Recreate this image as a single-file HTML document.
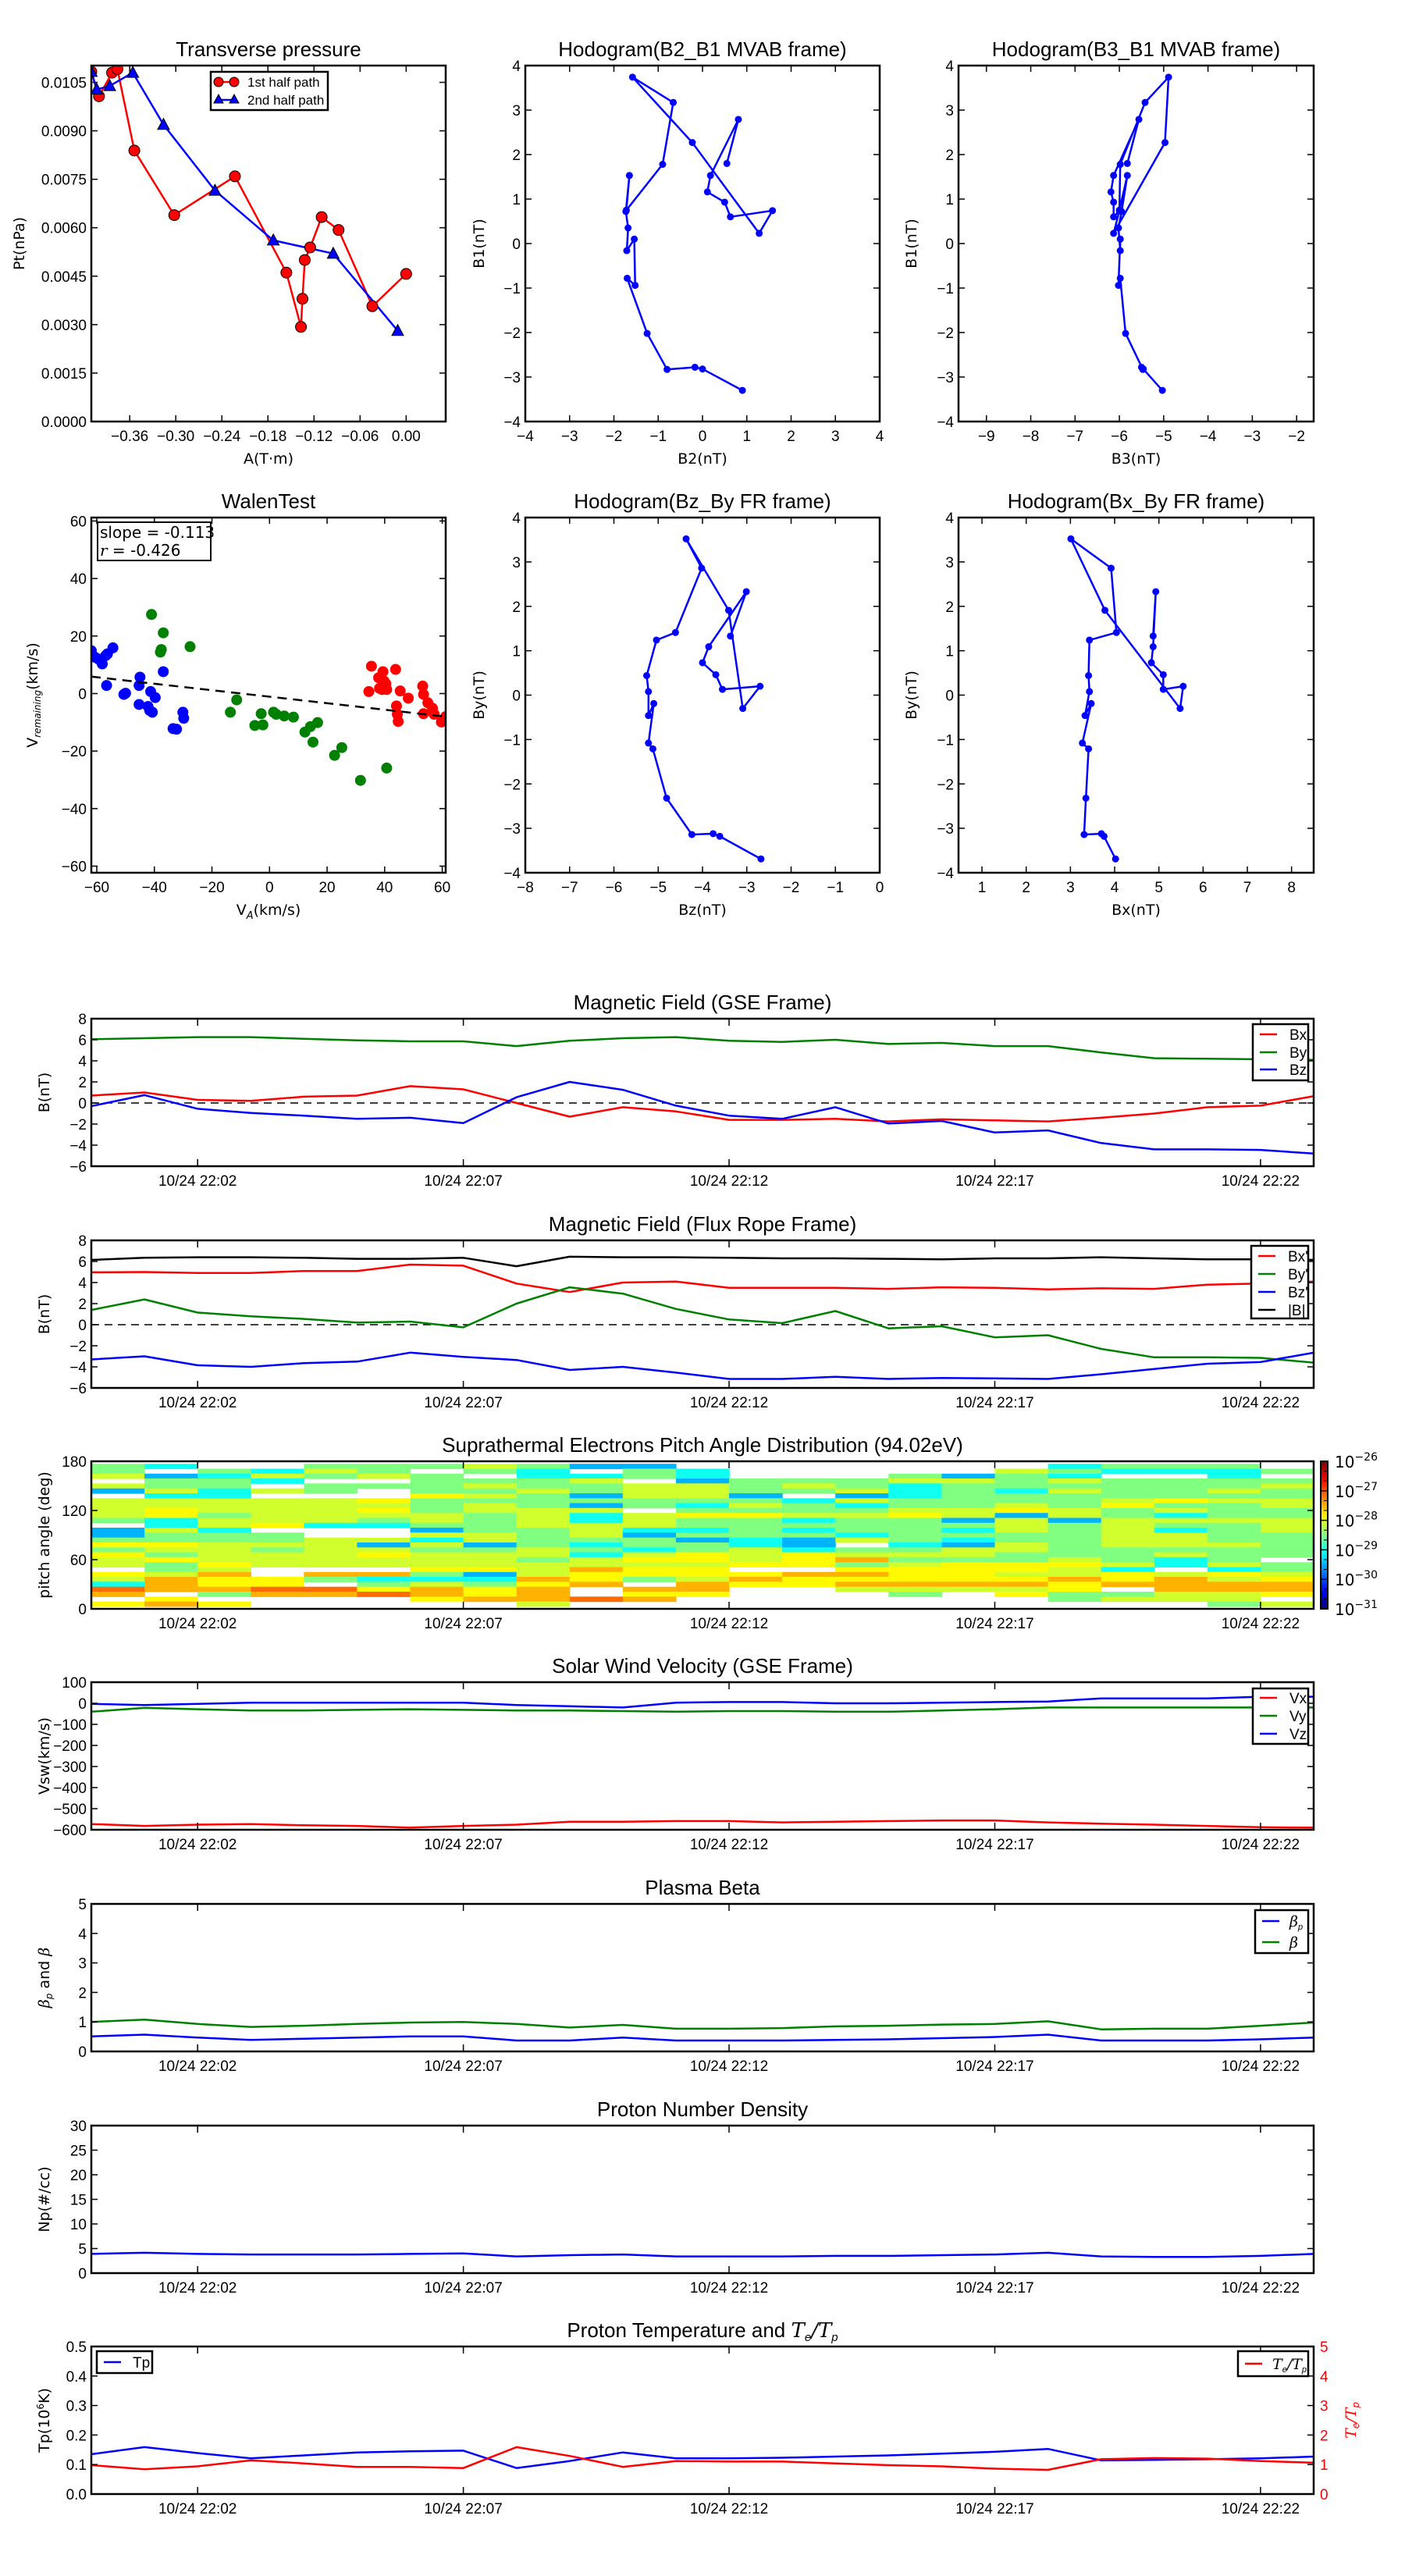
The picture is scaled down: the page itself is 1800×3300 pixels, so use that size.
<!DOCTYPE html>
<html><head><meta charset="utf-8"><title>Flux rope analysis</title>
<style>
html,body{margin:0;padding:0;background:#fff;}
svg{display:block;font-family:"Liberation Sans","DejaVu Sans",sans-serif;}
</style></head>
<body>
<svg id="fig" width="1800" height="3300" viewBox="0 0 1800 3300" xmlns="http://www.w3.org/2000/svg"></svg>
<script>
// ---------- DATA ----------
const timeMin=[0,1,2,3,4,5,6,7,8,9,10,11,12,13,14,15,16,17,18,19,20,21,22,23];
const timeTickMin=[2,7,12,17,22];
const timeTickLabels=["10/24 22:02","10/24 22:07","10/24 22:12","10/24 22:17","10/24 22:22"];
// GSE B
const bxGse=[0.7,1.0,0.3,0.2,0.6,0.7,1.6,1.3,0,-1.3,-0.4,-0.8,-1.6,-1.6,-1.5,-1.75,-1.55,-1.65,-1.75,-1.4,-1.0,-0.4,-0.25,0.65];
const byGse=[6.05,6.15,6.25,6.25,6.1,5.95,5.85,5.85,5.4,5.9,6.15,6.25,5.9,5.8,6.0,5.6,5.7,5.4,5.4,4.8,4.25,4.2,4.15,4.1];
const bzGse=[-0.3,0.75,-0.55,-0.95,-1.2,-1.5,-1.4,-1.9,0.55,2.0,1.25,-0.25,-1.2,-1.5,-0.4,-1.95,-1.7,-2.8,-2.6,-3.8,-4.4,-4.4,-4.45,-4.8];
// Flux-rope frame
const bxFr=[4.97,5.0,4.9,4.9,5.1,5.1,5.7,5.6,3.9,3.1,4.0,4.1,3.5,3.5,3.5,3.4,3.55,3.5,3.35,3.45,3.4,3.8,3.9,4.1];
const byFr=[1.4,2.4,1.15,0.8,0.55,0.2,0.3,-0.25,2.0,3.55,2.95,1.5,0.5,0.15,1.3,-0.35,-0.15,-1.2,-1.0,-2.3,-3.1,-3.1,-3.15,-3.6];
const bzFr=[-3.3,-3.0,-3.85,-4.0,-3.65,-3.5,-2.65,-3.05,-3.35,-4.3,-4.0,-4.55,-5.15,-5.15,-4.95,-5.15,-5.05,-5.1,-5.15,-4.7,-4.2,-3.7,-3.55,-2.65];
const bTot=[6.15,6.35,6.4,6.4,6.35,6.25,6.25,6.35,5.55,6.45,6.4,6.4,6.35,6.3,6.3,6.25,6.2,6.3,6.3,6.4,6.3,6.2,6.2,6.15];
// Solar wind
const vx=[-573,-582,-576,-573,-579,-582,-590,-582,-576,-562,-562,-559,-559,-565,-562,-559,-556,-556,-565,-571,-576,-582,-588,-590];
const vy=[-40,-22,-28,-34,-34,-31,-28,-31,-34,-34,-37,-40,-37,-37,-40,-40,-34,-28,-20,-20,-20,-20,-20,-20];
const vz=[-3,-8,-3,3,3,3,3,3,-8,-14,-20,3,6,6,0,0,3,6,8,23,23,23,31,31];
// Plasma beta
const betaP=[0.51,0.57,0.47,0.39,0.43,0.47,0.51,0.51,0.37,0.37,0.47,0.37,0.37,0.37,0.39,0.41,0.45,0.49,0.57,0.37,0.37,0.37,0.41,0.47];
const betaT=[1.0,1.08,0.93,0.83,0.87,0.93,0.98,1.0,0.93,0.81,0.9,0.77,0.77,0.79,0.85,0.87,0.91,0.93,1.02,0.75,0.77,0.77,0.87,0.98];
// Density
const np=[3.9,4.15,3.9,3.8,3.8,3.8,3.9,4.0,3.4,3.65,3.8,3.4,3.4,3.4,3.5,3.5,3.65,3.8,4.15,3.4,3.3,3.3,3.5,3.9];
// Temperature
const tp=[0.135,0.159,0.139,0.121,0.131,0.141,0.145,0.147,0.088,0.112,0.141,0.121,0.121,0.123,0.127,0.131,0.137,0.143,0.153,0.114,0.116,0.118,0.121,0.127];
const teTp=[0.98,0.84,0.94,1.14,1.04,0.92,0.92,0.88,1.59,1.29,0.92,1.12,1.1,1.1,1.04,0.98,0.94,0.86,0.82,1.18,1.22,1.2,1.12,1.06];
// PAD: rows top (177 deg) to bottom (3 deg), 23 one-minute columns; code -> log10 level, '.' = no data
const padRows=[
"54..5556533.......4555.",
"5.5465.54.54.....654445",
"6346565.4454...5354..4.",
".554..5556.355566565555",
"655.5556556656545555556",
"36465.55656655645465565",
".44...7653663.345555555",
"66666755555554655556766",
"66666656535465455657556",
"6766675666.555566765655",
"67566665646776676365455",
"54666565646554553636666",
".4674455666555555656556",
"364...35564454554656456",
"3555..66563555455556655",
"55556646555343654556655",
"77666363545543.43656665",
"56656655654564556655555",
"75666766646767666555655",
"6766666656776785556545.",
"65766666666677567776465",
".56...776877..777764.45",
"768.8853677778877667676",
"68775444875687777787867",
"4877.56578.877888878888",
"988997878.88..66667.888",
"8.5889878.77...5.755667",
".7....78898.......5666.",
"787.....6............56"];
const padLevelLog={"3":-29.5,"4":-29.05,"5":-28.5,"6":-28.1,"7":-27.85,"8":-27.5,"9":-27.15};
const padAngleEdgesTop=177, padBinDeg=6;
const cbarExp=[-26,-27,-28,-29,-30,-31];
// Transverse pressure
const ptA1=[-0.410,-0.400,-0.383,-0.376,-0.354,-0.302,-0.223,-0.156,-0.137,-0.135,-0.132,-0.125,-0.110,-0.088,-0.044,0.000];
const ptP1=[0.01083,0.01007,0.01080,0.01091,0.00839,0.00639,0.00759,0.00461,0.00293,0.00380,0.00500,0.00539,0.00633,0.00593,0.00357,0.00457];
const ptA2=[-0.410,-0.403,-0.386,-0.356,-0.316,-0.249,-0.173,-0.095,-0.011];
const ptP2=[0.01083,0.01028,0.01039,0.01080,0.00919,0.00715,0.00561,0.00520,0.00281];
// MVAB hodograms
const mvB1=[-3.3,-2.82,-2.78,-2.83,-2.02,-0.78,-0.94,0.1,-0.16,0.35,0.72,1.53,0.75,1.78,3.17,3.74,2.27,0.23,0.74,0.6,0.93,1.16,1.53,2.79,1.8];
const mvB2=[0.9,0,-0.17,-0.8,-1.25,-1.7,-1.52,-1.54,-1.71,-1.68,-1.73,-1.65,-1.72,-0.9,-0.66,-1.58,-0.23,1.28,1.58,0.63,0.5,0.11,0.18,0.81,0.55];
const mvB3=[-5.03,-5.46,-5.5,-5.47,-5.86,-5.98,-6.02,-5.98,-5.98,-6.02,-5.95,-5.82,-6.0,-5.98,-5.42,-4.89,-4.97,-6.13,-6.0,-6.13,-6.13,-6.19,-6.13,-5.56,-5.82];
// FR hodograms
const frBy=[-3.69,-3.18,-3.12,-3.14,-2.32,-1.21,-1.08,-0.19,-0.46,0.08,0.44,1.24,1.41,2.86,3.52,1.91,-0.30,0.20,0.13,0.46,0.73,1.09,2.33,1.33];
const frBz=[-2.68,-3.61,-3.76,-4.24,-4.81,-5.12,-5.22,-5.10,-5.22,-5.22,-5.26,-5.04,-4.61,-4.02,-4.37,-3.41,-3.09,-2.70,-3.55,-3.70,-4.00,-3.86,-3.01,-3.37];
const frBx=[4.02,3.76,3.70,3.31,3.35,3.41,3.27,3.47,3.33,3.43,3.41,3.43,4.04,3.92,3.01,3.78,5.48,5.55,5.1,5.1,4.83,4.87,4.93,4.87];
// Walen test
const walBlueX=[-61.9,-60.6,-59.4,-58.1,-56.9,-56.3,-54.4,-56.6,-50.6,-50.0,-45.3,-45.3,-45.0,-42.2,-41.6,-41.3,-40.7,-39.7,-36.9,-33.5,-32.3,-30.1,-29.8];
const walBlueY=[14.9,12.6,12.0,10.3,13.2,13.8,15.9,2.8,-0.3,0.1,-3.8,2.8,5.7,-4.5,-5.9,0.7,-6.5,-1.4,7.6,-12.2,-12.4,-6.5,-8.6];
const walGreenX=[-41.0,-36.9,-37.6,-37.9,-27.6,-11.4,-13.6,-2.9,-2.3,-5.1,1.4,2.3,5.1,8.3,12.3,14.2,15.1,16.7,25.1,22.6,31.6,40.7];
const walGreenY=[27.5,21.1,15.3,14.4,16.3,-2.2,-6.5,-7.0,-10.9,-11.1,-6.5,-7.2,-7.8,-8.2,-13.4,-11.5,-16.9,-10.1,-18.8,-21.5,-30.2,-25.9];
const walRedX=[35.4,34.5,37.9,39.4,39.8,40.4,38.2,39.1,40.7,43.8,44.1,44.4,44.7,45.4,48.2,53.2,53.5,53.5,55.0,56.6,57.2,59.7,61.2];
const walRedY=[9.5,0.7,5.5,7.6,4.3,3.4,1.8,1.4,1.4,8.4,-4.3,-7.2,-9.7,0.9,-1.6,2.6,-0.3,-7.0,-3.2,-5.1,-7.2,-9.9,-8.0];
const walSlope=-0.113, walIntercept=-1.1, walR=-0.426;

// ---------- HELPERS ----------
const NS='http://www.w3.org/2000/svg';
const svg=document.getElementById('fig');
function mk(tag,attrs,parent){const e=document.createElementNS(NS,tag);for(const k in attrs)e.setAttribute(k,attrs[k]);(parent||svg).appendChild(e);return e;}
function lin(d0,d1,p0,p1){return v=>p0+(v-d0)/(d1-d0)*(p1-p0);}
function fmtMinus(s){return String(s).replace(/-/g,'\u2212');}
function txt(parent,x,y,s,size,anchor,extra){const t=mk('text',Object.assign({x:x,y:y,'font-size':size,'text-anchor':anchor||'middle',fill:'#000'},extra||{}),parent);t.textContent=s;return t;}
function jet(f){f=Math.max(0,Math.min(1,f));const c=v=>Math.round(255*Math.max(0,Math.min(1,v)));return 'rgb('+c(1.5-Math.abs(4*f-3))+','+c(1.5-Math.abs(4*f-2))+','+c(1.5-Math.abs(4*f-1))+')';}

function frame(g,x0,y0,w,h){
  const r=mk('rect',{x:x0,y:y0,width:w,height:h,fill:'none',stroke:'#000','stroke-width':2.5},g);
  
  
}
function xTicks(g,vals,labels,sx,y0,h,len,both){
  vals.forEach((v,i)=>{const x=sx(v);
    const t1=mk('line',{x1:x,y1:y0+h,x2:x,y2:y0+h-len,stroke:'#000','stroke-width':1.5},g);
    
    
    if(both!==false){const t2=mk('line',{x1:x,y1:y0,x2:x,y2:y0+len,stroke:'#000','stroke-width':1.5},g);
      
      }
    const l=txt(g,x,y0+h+25,fmtMinus(labels[i]),19);
    
    
  });
}
function yTicks(g,vals,labels,sy,x0,w,len,opt){
  opt=opt||{};
  vals.forEach((v,i)=>{const y=sy(v);
    if(opt.left!==false){const t1=mk('line',{x1:x0,y1:y,x2:x0+len,y2:y,stroke:'#000','stroke-width':1.5},g);
      
      }
    if(opt.right!==false){const t2=mk('line',{x1:x0+w,y1:y,x2:x0+w-len,y2:y,stroke:'#000','stroke-width':1.5},g);
      
      }
    if(labels){const l=opt.rightLabels?txt(g,x0+w+8,y+7,fmtMinus(labels[i]),19,'start',{fill:opt.color||'#000'}):txt(g,x0-6,y+7,fmtMinus(labels[i]),19,'end');
      
      }
  });
}
function polyline(g,xs,ys,sx,sy,color,w){
  const pts=xs.map((x,i)=>sx(x).toFixed(1)+','+sy(ys[i]).toFixed(1)).join(' ');
  return mk('polyline',{points:pts,fill:'none',stroke:color,'stroke-width':w||2.5,'stroke-linejoin':'round'},g);
}
function ylabel(g,x,y,s,size,color){
  const t=txt(g,x,y,s,size||19,'middle',{transform:'rotate(-90 '+x+' '+y+')',fill:color||'#000','font-family':'DejaVu Sans, sans-serif'});
  
  
  return t;
}
function title(g,x,y,s){
  const t=txt(g,x,y,s,26,'middle');
  
  
  return t;
}
function legendBox(g,x,y,w,h,entries,lineLen){
  const lg=mk('g',{},g);
  
  
  mk('rect',{x:x,y:y,width:w,height:h,fill:'#fff',stroke:'#000','stroke-width':2.5},lg);
  entries.forEach(e=>{
    const eg=mk('g',{},lg);
    
    
    mk('line',{x1:x+9,y1:e.y,x2:x+9+(lineLen||22),y2:e.y,stroke:e.color,'stroke-width':2.5},eg);
    const t=txt(eg,e.tx,e.y+7,e.label,19,'start',e.style||{});
    if(e.html){t.textContent='';e.html(t);}
  });
  return lg;
}

// ---------- SCATTER/HODOGRAM PANELS ----------
function hodo(name,x0,y0,w,h,xd,yd,xt,yt,xs,ys,ttl,xl,yl,ylx){
  const g=mk('g',{});
  
  
  const sx=lin(xd[0],xd[1],x0,x0+w), sy=lin(yd[0],yd[1],y0+h,y0);
  const pl=polyline(g,xs,ys,sx,sy,'#0000ff',2.5);
  
  
  xs.forEach((x,i)=>{const c=mk('circle',{cx:sx(x),cy:sy(ys[i]),r:4.5,fill:'#0000ff'},g);
    
    });
  xTicks(g,xt,xt,sx,y0,h,8);
  yTicks(g,yt,yt,sy,x0,w,8);
  frame(g,x0,y0,w,h);
  title(g,x0+w/2,y0-12,ttl);
  const xlab=txt(g,x0+w/2,y0+h+54,xl,19,'middle',{'font-family':'DejaVu Sans, sans-serif'});
  
  
  ylabel(g,ylx,y0+h/2,yl);
  return g;
}
const R1Y=84,R1H=456,R2Y=663,R2H=455;
const C1=[117,454],C2=[673,454],C3=[1228,455];

// Transverse pressure
(function(){
  const x0=C1[0],w=C1[1],y0=R1Y,h=R1H;
  const g=mk('g',{});
  
  
  const sx=lin(-0.41,0.0515,x0,x0+w), sy=lin(0,0.01102,y0+h,y0);
  const cp=mk('clipPath',{id:'clipPt'},g);mk('rect',{x:x0,y:y0,width:w,height:h},cp);
  const inner=mk('g',{'clip-path':'url(#clipPt)'},g);
  const l1=polyline(inner,ptA1,ptP1,sx,sy,'#ff0000',2.5);
  
  
  const l2=polyline(inner,ptA2,ptP2,sx,sy,'#0000ff',2.5);
  
  
  ptA1.forEach((a,i)=>{const c=mk('circle',{cx:sx(a),cy:sy(ptP1[i]),r:7,fill:'#ff0000',stroke:'#000','stroke-width':1},inner);
    
    });
  ptA2.forEach((a,i)=>{const x=sx(a),y=sy(ptP2[i]);const p=mk('polygon',{points:(x)+','+(y-8)+' '+(x-7.5)+','+(y+6)+' '+(x+7.5)+','+(y+6),fill:'#0000ff',stroke:'#000','stroke-width':1},inner);
    
    });
  const xt=[-0.36,-0.30,-0.24,-0.18,-0.12,-0.06,0.00];
  xTicks(g,xt,xt.map(v=>v.toFixed(2)),sx,y0,h,8);
  const yt=[0,0.0015,0.003,0.0045,0.006,0.0075,0.009,0.0105];
  yTicks(g,yt,yt.map(v=>v.toFixed(4)),sy,x0,w,8);
  frame(g,x0,y0,w,h);
  title(g,x0+w/2,y0-12,'Transverse pressure');
  const xl=txt(g,x0+w/2,y0+h+54,'A(T\u00b7m)',19,'middle',{'font-family':'DejaVu Sans, sans-serif'});
  
  
  ylabel(g,31,y0+h/2,'Pt(nPa)');
  const lg=mk('g',{},g);
  
  
  mk('rect',{x:270,y:92,width:150,height:49,fill:'#fff',stroke:'#000','stroke-width':2.5},lg);
  const e1=mk('g',{},lg);
  
  
  mk('line',{x1:280,y1:105,x2:300,y2:105,stroke:'#ff0000','stroke-width':2.5},e1);
  mk('circle',{cx:280,cy:105,r:6,fill:'#ff0000',stroke:'#000','stroke-width':1},e1);
  mk('circle',{cx:300,cy:105,r:6,fill:'#ff0000',stroke:'#000','stroke-width':1},e1);
  txt(e1,317,111,'1st half path',17,'start');
  const e2=mk('g',{},lg);
  
  
  mk('line',{x1:280,y1:128,x2:300,y2:128,stroke:'#0000ff','stroke-width':2.5},e2);
  mk('polygon',{points:'280,121 274,132 286,132',fill:'#0000ff',stroke:'#000','stroke-width':1},e2);
  mk('polygon',{points:'300,121 294,132 306,132',fill:'#0000ff',stroke:'#000','stroke-width':1},e2);
  txt(e2,317,134,'2nd half path',17,'start');
})();

hodo('hodogram-b2-b1-chart',C2[0],R1Y,C2[1],R1H,[-4,4],[-4,4],[-4,-3,-2,-1,0,1,2,3,4],[-4,-3,-2,-1,0,1,2,3,4],mvB2,mvB1,'Hodogram(B2_B1 MVAB frame)','B2(nT)','B1(nT)',620);
hodo('hodogram-b3-b1-chart',C3[0],R1Y,C3[1],R1H,[-9.63,-1.615],[-4,4],[-9,-8,-7,-6,-5,-4,-3,-2],[-4,-3,-2,-1,0,1,2,3,4],mvB3,mvB1,'Hodogram(B3_B1 MVAB frame)','B3(nT)','B1(nT)',1174);
hodo('hodogram-bz-by-chart',C2[0],R2Y,C2[1],R2H,[-8,0],[-4,4],[-8,-7,-6,-5,-4,-3,-2,-1,0],[-4,-3,-2,-1,0,1,2,3,4],frBz,frBy,'Hodogram(Bz_By FR frame)','Bz(nT)','By(nT)',620);
hodo('hodogram-bx-by-chart',C3[0],R2Y,C3[1],R2H,[0.47,8.5],[-4,4],[1,2,3,4,5,6,7,8],[-4,-3,-2,-1,0,1,2,3,4],frBx,frBy,'Hodogram(Bx_By FR frame)','Bx(nT)','By(nT)',1174);

// Walen test
(function(){
  const x0=C1[0],w=C1[1],y0=R2Y,h=R2H;
  const g=mk('g',{});
  
  
  const xd=[-61.9,61.2];
  const sx=lin(xd[0],xd[1],x0,x0+w), sy=lin(-62.3,61.2,y0+h,y0);
  const cp=mk('clipPath',{id:'clipW'},g);mk('rect',{x:x0,y:y0,width:w,height:h},cp);
  const inner=mk('g',{'clip-path':'url(#clipW)'},g);
  function pts(xs,ys,color,name){xs.forEach((x,i)=>{const c=mk('circle',{cx:sx(x),cy:sy(ys[i]),r:7,fill:color},inner);
    
    });}
  pts(walBlueX,walBlueY,'#0000ff','walen-point-blue');
  pts(walGreenX,walGreenY,'#008000','walen-point-green');
  pts(walRedX,walRedY,'#ff0000','walen-point-red');
  const fl=mk('line',{x1:sx(xd[0]),y1:sy(walSlope*xd[0]+walIntercept),x2:sx(xd[1]),y2:sy(walSlope*xd[1]+walIntercept),stroke:'#000','stroke-width':2.5,'stroke-dasharray':'12,8'},inner);
  
  
  const t=[-60,-40,-20,0,20,40,60];
  xTicks(g,t,t,sx,y0,h,8);
  yTicks(g,t,t,sy,x0,w,8);
  frame(g,x0,y0,w,h);
  title(g,x0+w/2,y0-12,'WalenTest');
  const xl=txt(g,x0+w/2,y0+h+54,'',19,'middle',{'font-family':'DejaVu Sans, sans-serif'});
  
  
  xl.innerHTML='V<tspan font-size="13" dy="5" font-style="italic">A</tspan><tspan dy="-5">(km/s)</tspan>';
  const yl=ylabel(g,48,y0+h/2,'');
  yl.innerHTML='V<tspan font-size="12" dy="4" font-style="italic">remaining</tspan><tspan dy="-4">(km/s)</tspan>';
  const box=mk('g',{},g);
  
  
  mk('rect',{x:125,y:669,width:145,height:49,fill:'#fff',stroke:'#000','stroke-width':2},box);
  txt(box,128,689,'slope = '+walSlope.toFixed(3),20,'start',{'font-family':'DejaVu Sans, sans-serif'});
  const rt=txt(box,128,712,'',20,'start',{'font-family':'DejaVu Sans, sans-serif'});
  rt.innerHTML='<tspan font-style="italic" font-family="DejaVu Serif, serif">r</tspan> = '+walR.toFixed(3);
})();

// ---------- TIME SERIES PANELS ----------
const TS_X0=117,TS_W=1566,TS_H=189;
const TS_TOPS=[1305,1589,1872,2155,2439,2723,3006];
const sxT=lin(0,23,TS_X0,TS_X0+TS_W);
function tsPanel(name,top,yd,yt,ttl,yl,series,legend,opts){
  opts=opts||{};
  const g=mk('g',{});
  
  
  const sy=lin(yd[0],yd[1],top+TS_H,top);
  const cid='clip'+name;
  const cp=mk('clipPath',{id:cid},g);mk('rect',{x:TS_X0,y:top,width:TS_W,height:TS_H},cp);
  const inner=mk('g',{'clip-path':'url(#'+cid+')'},g);
  if(opts.zero){const z=mk('line',{x1:TS_X0,y1:sy(0),x2:TS_X0+TS_W,y2:sy(0),stroke:'#000','stroke-width':1.5,'stroke-dasharray':'10,7'},inner);
    
    }
  series.forEach(s=>{const ssy=s.sy||sy;const p=polyline(inner,timeMin,s.data,sxT,ssy,s.color,2.5);
    
    });
  xTicks(g,timeTickMin,timeTickLabels,sxT,top,TS_H,9);
  yTicks(g,yt,yt.map(v=>opts.fmt?opts.fmt(v):v),sy,TS_X0,TS_W,8,{right:opts.rightAxis?false:true});
  frame(g,TS_X0,top,TS_W,TS_H);
  title(g,TS_X0+TS_W/2,top-12,ttl);
  if(yl)ylabel(g,63,top+TS_H/2,yl);
  return {g:g,sy:sy};
}

// GSE
{
  const p=tsPanel('magnetic-field-gse-chart',TS_TOPS[0],[-6,8],[-6,-4,-2,0,2,4,6,8],'Magnetic Field (GSE Frame)','B(nT)',
   [{data:bxGse,color:'#ff0000',name:'bx-line'},{data:byGse,color:'#008000',name:'by-line'},{data:bzGse,color:'#0000ff',name:'bz-line'}],null,{zero:true});
  legendBox(p.g,1605,1312,71,72,[{y:1325,color:'#ff0000',label:'Bx',tx:1652},{y:1348,color:'#008000',label:'By',tx:1652},{y:1370,color:'#0000ff',label:'Bz',tx:1652}]);
}
// Flux rope
{
  const p=tsPanel('magnetic-field-flux-rope-chart',TS_TOPS[1],[-6,8],[-6,-4,-2,0,2,4,6,8],'Magnetic Field (Flux Rope Frame)','B(nT)',
   [{data:bxFr,color:'#ff0000',name:'bx-prime-line'},{data:byFr,color:'#008000',name:'by-prime-line'},{data:bzFr,color:'#0000ff',name:'bz-prime-line'},{data:bTot,color:'#000000',name:'b-total-line'}],null,{zero:true});
  const t=TS_TOPS[1];
  legendBox(p.g,1603,t+7,73,93,[{y:t+20,color:'#ff0000',label:"Bx'",tx:1650},{y:t+43,color:'#008000',label:"By'",tx:1650},{y:t+66,color:'#0000ff',label:"Bz'",tx:1650},{y:t+89,color:'#000000',label:'|B|',tx:1650}]);
}
// PAD heatmap
{
  const top=TS_TOPS[2];
  const g=mk('g',{});
  
  
  const sy=lin(0,180,top+TS_H,top);
  const cg=mk('g',{},g);
  
  
  padRows.forEach((row,r)=>{
    const aTop=padAngleEdgesTop-r*padBinDeg, aBot=aTop-padBinDeg;
    [...row].forEach((ch,c)=>{
      if(ch==='.')return;
      const v=padLevelLog[ch];
      const x1=sxT(timeMin[c]),x2=sxT(timeMin[c+1]);
      const y1=sy(aTop),y2=sy(aBot);
      const cell=mk('rect',{x:x1.toFixed(1),y:y1.toFixed(1),width:(x2-x1+0.6).toFixed(1),height:(y2-y1+0.6).toFixed(1),fill:jet((v+31)/5)},cg);
      
      
    });
  });
  xTicks(g,timeTickMin,timeTickLabels,sxT,top,TS_H,9);
  yTicks(g,[0,60,120,180],[0,60,120,180],sy,TS_X0,TS_W,8);
  frame(g,TS_X0,top,TS_W,TS_H);
  title(g,TS_X0+TS_W/2,top-12,'Suprathermal Electrons Pitch Angle Distribution (94.02eV)');
  ylabel(g,63,top+TS_H/2,'pitch angle (deg)');
  // colorbar
  const cb=mk('g',{},g);
  
  
  const defs=mk('defs',{},cb);
  const grad=mk('linearGradient',{id:'jetGrad',x1:0,y1:1,x2:0,y2:0},defs);
  for(let i=0;i<=20;i++){mk('stop',{offset:(i/20),'stop-color':jet(i/20)},grad);}
  mk('rect',{x:1692,y:top,width:9,height:TS_H,fill:'url(#jetGrad)',stroke:'#000','stroke-width':2},cb);
  const scb=lin(-31,-26,top+TS_H,top);
  cbarExp.forEach(e=>{
    const y=scb(e);
    mk('line',{x1:1692,y1:y,x2:1701,y2:y,stroke:'#000','stroke-width':1.5},cb);
    const t=txt(cb,1710,y+8,'',20,'start',{'font-family':'DejaVu Sans, sans-serif'});
    t.innerHTML='10<tspan font-size="14" dy="-9">'+fmtMinus(e)+'</tspan>';
    
    
  });
  for(let e=-31;e<-26;e++){for(let k=1;k<3;k++){const y=scb(e+k/3);mk('line',{x1:1696,y1:y,x2:1701,y2:y,stroke:'#000','stroke-width':1},cb);}}
}
// Solar wind
{
  const p=tsPanel('solar-wind-velocity-chart',TS_TOPS[3],[-600,100],[-600,-500,-400,-300,-200,-100,0,100],'Solar Wind Velocity (GSE Frame)','Vsw(km/s)',
   [{data:vx,color:'#ff0000',name:'vx-line'},{data:vy,color:'#008000',name:'vy-line'},{data:vz,color:'#0000ff',name:'vz-line'}]);
  const t=TS_TOPS[3];
  legendBox(p.g,1605,t+8,71,71,[{y:t+20,color:'#ff0000',label:'Vx',tx:1652},{y:t+43,color:'#008000',label:'Vy',tx:1652},{y:t+66,color:'#0000ff',label:'Vz',tx:1652}]);
}
// Plasma beta
{
  const p=tsPanel('plasma-beta-chart',TS_TOPS[4],[0,5],[0,1,2,3,4,5],'Plasma Beta',null,
   [{data:betaP,color:'#0000ff',name:'beta-p-line'},{data:betaT,color:'#008000',name:'beta-line'}]);
  const t=TS_TOPS[4];
  const yl=ylabel(p.g,63,t+TS_H/2,'');
  yl.innerHTML='<tspan font-style="italic" font-family="DejaVu Serif, serif">β</tspan><tspan font-size="12" dy="4" font-style="italic">p</tspan><tspan dy="-4"> and </tspan><tspan font-style="italic" font-family="DejaVu Serif, serif">β</tspan>';
  legendBox(p.g,1608,t+8,68,55,[{y:t+22,color:'#0000ff',label:'',tx:1652,html:e=>{e.innerHTML='<tspan font-style="italic" font-family="DejaVu Serif, serif">β</tspan><tspan font-size="11" dy="4" font-style="italic">p</tspan>';}},{y:t+49,color:'#008000',label:'',tx:1652,html:e=>{e.innerHTML='<tspan font-style="italic" font-family="DejaVu Serif, serif">β</tspan>';}}]);
}
// Density
{
  tsPanel('proton-density-chart',TS_TOPS[5],[0,30],[0,5,10,15,20,25,30],'Proton Number Density','Np(#/cc)',
   [{data:np,color:'#0000ff',name:'np-line'}]);
}
// Temperature
{
  const t=TS_TOPS[6];
  const syR=lin(0,5,t+TS_H,t);
  const p=tsPanel('proton-temperature-chart',t,[0,0.5],[0,0.1,0.2,0.3,0.4,0.5],'',null,
   [{data:tp,color:'#0000ff',name:'tp-line'},{data:teTp,color:'#ff0000',name:'te-tp-line',sy:syR}],null,{fmt:v=>v.toFixed(1),rightAxis:true});
  const ttl=title(p.g,TS_X0+TS_W/2,t-12,'');
  ttl.innerHTML='Proton Temperature and <tspan font-style="italic" font-family="DejaVu Serif, serif">T</tspan><tspan font-size="15" dy="5" font-style="italic">e</tspan><tspan dy="-5" font-style="italic" font-family="DejaVu Serif, serif">/T</tspan><tspan font-size="15" dy="5" font-style="italic">p</tspan>';
  yTicks(p.g,[0,1,2,3,4,5],[0,1,2,3,4,5],syR,TS_X0,TS_W,8,{left:false,rightLabels:true,color:'#ff0000'});
  const yl=ylabel(p.g,63,t+TS_H/2,'');
  yl.innerHTML='Tp(10<tspan font-size="12" dy="-7">6</tspan><tspan dy="7">K)</tspan>';
  const yr=ylabel(p.g,1737,t+TS_H/2,'',19,'#ff0000');
  yr.innerHTML='<tspan font-style="italic" font-family="DejaVu Serif, serif">T</tspan><tspan font-size="12" dy="4" font-style="italic">e</tspan><tspan dy="-4" font-style="italic" font-family="DejaVu Serif, serif">/T</tspan><tspan font-size="12" dy="4" font-style="italic">p</tspan>';
  legendBox(p.g,124,t+6,71,28,[{y:t+20,color:'#0000ff',label:'Tp',tx:170}]);
  legendBox(p.g,1586,t+6,90,32,[{y:t+22,color:'#ff0000',label:'',tx:1630,html:e=>{e.innerHTML='<tspan font-style="italic" font-family="DejaVu Serif, serif">T</tspan><tspan font-size="11" dy="4" font-style="italic">e</tspan><tspan dy="-4" font-style="italic" font-family="DejaVu Serif, serif">/T</tspan><tspan font-size="11" dy="4" font-style="italic">p</tspan>';}}]);
}
</script>
</body></html>
